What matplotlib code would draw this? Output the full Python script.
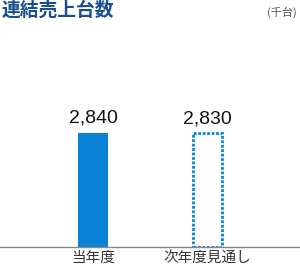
import matplotlib.pyplot as plt

plt.rcParams['font.family'] = ['Noto Sans CJK JP', 'DejaVu Sans']

# datos
categorias = ["当年度", "次年度見通し"]
valores = [2840, 2830]
etiquetas = ["2,840", "2,830"]

azul = "#0a82d6"

fig = plt.figure(figsize=(3.0, 2.65), dpi=100)
ax = fig.add_axes([0, 18 / 265, 1, 207 / 265])

pos = [0, 1]
ax.bar(pos[0], valores[0], width=0.255, color=azul)
ax.bar(pos[1], valores[1], width=0.255, facecolor="white", edgecolor=azul,
       linestyle=(0, (1, 0.6)), linewidth=2.0)

for x, v, t in zip(pos, valores, etiquetas):
    ax.text(x, v + 150, t, ha="center", va="bottom", fontsize=14,
            family=["Liberation Sans", "DejaVu Sans"], color="#111111")

ax.set_xlim(-0.812, 1.808)
ax.set_ylim(0, 5157)
ax.set_xticks(pos)
ax.set_xticklabels(categorias, fontsize=10.5, color="#333333")
ax.tick_params(axis="x", length=0, pad=3)
ax.set_yticks([])
for s in ["top", "right", "left"]:
    ax.spines[s].set_visible(False)
ax.spines["bottom"].set_color("#888888")
ax.spines["bottom"].set_linewidth(1.0)

fig.text(0.005, 0.998, "連結売上台数", ha="left", va="top", fontsize=13.5,
         fontweight="bold", color="#1c4d8e")
fig.text(0.99, 0.975, "(千台)", ha="right", va="top", fontsize=8,
         color="#555555")

plt.savefig("out.png", dpi=100)
